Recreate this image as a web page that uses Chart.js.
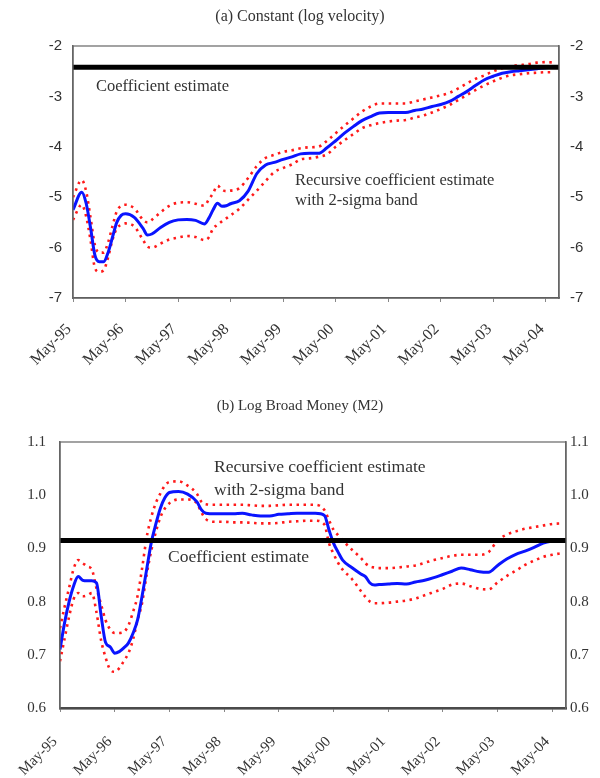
<!DOCTYPE html>
<html><head><meta charset="utf-8">
<script src="https://cdn.jsdelivr.net/npm/chart.js@4.4.1/dist/chart.umd.min.js"></script>
<style>
body{margin:0;background:#fff;width:600px;height:778px;position:relative;overflow:hidden}
.wrap{position:absolute;left:0;width:600px}
.ann{position:absolute;font-family:"Liberation Serif","Times New Roman",serif;color:#333;white-space:nowrap;line-height:1}
</style></head><body>
<div class="wrap" style="top:0;height:390px"><canvas id="c1" width="600" height="390"></canvas></div>
<div class="wrap" style="top:390px;height:388px"><canvas id="c2" width="600" height="388"></canvas></div>
<div class="ann" style="left:96px;top:77.5px;font-size:16.5px">Coefficient estimate</div>
<div class="ann" style="left:295px;top:171.5px;font-size:16.5px">Recursive coefficient estimate</div>
<div class="ann" style="left:295px;top:191.5px;font-size:16.5px">with 2-sigma band</div>
<div class="ann" style="left:214px;top:458px;font-size:17.5px">Recursive coefficient estimate</div>
<div class="ann" style="left:214px;top:481px;font-size:17.5px">with 2-sigma band</div>
<div class="ann" style="left:168px;top:548px;font-size:17.5px">Coefficient estimate</div>
<script>
// ---- shared x axis: months since May-95 ----
const yearTickLabels = ['May-95','May-96','May-97','May-98','May-99','May-00','May-01','May-02','May-03','May-04'];
const monthsPerTick = 12;
const xMaxMonth = 111;

// ---- (a) Constant (log velocity) ----
const titleA = '(a) Constant (log velocity)';
const monthsA = [0,2,3,4,5,6,7,8,9,10,11,12,14,16,17,18,20,22,24,26,28,30,31,32,33,34,35,36,38,40,42,44,46,48,50,52,54,56,58,60,62,64,66,68,70,72,74,76,78,80,82,84,86,88,90,92,94,96,98,100,102,104,106,108,110];
const recursiveA = [-5.25,-4.9,-5.12,-5.6,-6.15,-6.28,-6.28,-6.1,-5.8,-5.5,-5.36,-5.33,-5.4,-5.62,-5.75,-5.73,-5.6,-5.5,-5.45,-5.44,-5.46,-5.53,-5.42,-5.25,-5.12,-5.18,-5.17,-5.13,-5.07,-4.88,-4.53,-4.36,-4.31,-4.25,-4.2,-4.14,-4.13,-4.13,-4.02,-3.88,-3.73,-3.6,-3.48,-3.4,-3.33,-3.32,-3.32,-3.32,-3.28,-3.25,-3.2,-3.16,-3.1,-3.0,-2.9,-2.78,-2.67,-2.6,-2.54,-2.51,-2.49,-2.47,-2.45,-2.43,-2.42];
const upperA = [-5.0,-4.66,-4.88,-5.4,-5.95,-6.1,-6.1,-5.9,-5.58,-5.28,-5.17,-5.15,-5.22,-5.45,-5.5,-5.45,-5.3,-5.17,-5.11,-5.1,-5.13,-5.17,-5.05,-4.92,-4.77,-4.85,-4.88,-4.87,-4.82,-4.62,-4.38,-4.22,-4.16,-4.1,-4.07,-4.03,-4.01,-4.0,-3.88,-3.73,-3.58,-3.44,-3.3,-3.2,-3.14,-3.14,-3.14,-3.14,-3.1,-3.06,-3.02,-2.98,-2.93,-2.84,-2.74,-2.65,-2.58,-2.5,-2.44,-2.4,-2.38,-2.36,-2.33,-2.32,-2.33];
const lowerA = [-5.45,-5.15,-5.38,-5.85,-6.4,-6.48,-6.45,-6.2,-5.85,-5.62,-5.55,-5.52,-5.58,-5.85,-5.98,-6.0,-5.92,-5.84,-5.8,-5.77,-5.79,-5.85,-5.8,-5.62,-5.55,-5.48,-5.42,-5.36,-5.23,-5.05,-4.87,-4.68,-4.5,-4.42,-4.35,-4.25,-4.23,-4.2,-4.15,-4.0,-3.87,-3.75,-3.63,-3.57,-3.53,-3.5,-3.48,-3.47,-3.42,-3.38,-3.32,-3.25,-3.17,-3.07,-2.97,-2.87,-2.78,-2.7,-2.63,-2.58,-2.56,-2.54,-2.53,-2.52,-2.52];
const coefA = -2.42;
const yTicksA = {min:-7, max:-2, step:1};

// ---- (b) Log Broad Money (M2) ----
const titleB = '(b) Log Broad Money (M2)';
const monthsB = [0,1,2,3,4,5,6,7,8,9,10,11,12,13,14,15,16,17,18,19,20,21,22,23,24,26,28,30,31,32,34,36,38,40,42,44,46,48,50,52,54,56,58,59,60,61,62,64,66,67,68,69,70,72,74,76,78,80,82,84,86,88,90,92,94,96,98,100,102,104,106,108,110];
const recursiveB = [0.71,0.76,0.80,0.83,0.847,0.84,0.839,0.839,0.835,0.775,0.723,0.715,0.703,0.706,0.713,0.722,0.74,0.765,0.81,0.86,0.91,0.945,0.975,0.995,1.005,1.007,1.002,0.988,0.973,0.966,0.965,0.965,0.965,0.966,0.963,0.961,0.961,0.964,0.965,0.966,0.966,0.966,0.962,0.935,0.91,0.893,0.878,0.864,0.852,0.847,0.835,0.831,0.832,0.833,0.834,0.833,0.837,0.84,0.845,0.851,0.857,0.863,0.86,0.856,0.855,0.868,0.88,0.889,0.895,0.902,0.91,0.914,0.916];
const upperB = [0.75,0.79,0.826,0.862,0.878,0.872,0.866,0.86,0.825,0.795,0.765,0.748,0.741,0.741,0.743,0.755,0.78,0.81,0.862,0.92,0.958,0.985,1.003,1.018,1.025,1.026,1.018,1.003,0.988,0.983,0.982,0.982,0.982,0.982,0.981,0.98,0.98,0.981,0.982,0.982,0.982,0.982,0.972,0.953,0.935,0.925,0.915,0.898,0.882,0.872,0.866,0.864,0.863,0.863,0.864,0.866,0.868,0.873,0.878,0.882,0.886,0.888,0.888,0.888,0.893,0.915,0.926,0.932,0.937,0.94,0.943,0.946,0.947];
const lowerB = [0.688,0.73,0.772,0.805,0.816,0.81,0.812,0.816,0.78,0.728,0.695,0.672,0.668,0.675,0.688,0.703,0.728,0.765,0.797,0.85,0.895,0.93,0.958,0.975,0.985,0.992,0.992,0.985,0.968,0.955,0.95,0.95,0.949,0.949,0.948,0.947,0.947,0.948,0.95,0.951,0.952,0.952,0.945,0.91,0.89,0.873,0.86,0.843,0.82,0.809,0.8,0.797,0.797,0.798,0.8,0.802,0.806,0.812,0.818,0.824,0.832,0.834,0.829,0.824,0.823,0.836,0.848,0.858,0.869,0.877,0.884,0.888,0.891];
const coefB = 0.915;
const yTicksB = {min:0.6, max:1.1, step:0.1};

const SERIF = '"Liberation Serif","Times New Roman",serif';
const SANS = '"Liberation Sans",Arial,sans-serif';

const framePlugin = {
  id:'frame',
  afterDatasetsDraw(chart, args, opts){
    const a = chart.chartArea, c = chart.ctx;
    c.save();
    c.strokeStyle = opts.color; c.lineWidth = opts.width;
    c.strokeRect(a.left, a.top, a.right-a.left, a.bottom-a.top);
    c.restore();
  }
};

function pts(ms, vs){ return ms.map((m,i)=>({x:m, y:vs[i]})); }

function makeChart(id, cfg){
  const curve = {pointRadius:0, cubicInterpolationMode:'monotone'};
  const datasets = [
    {data:[{x:0,y:cfg.coef},{x:xMaxMonth,y:cfg.coef}], borderColor:'#000', borderWidth:5, pointRadius:0, tension:0},
    Object.assign({data:pts(cfg.months, cfg.rec), borderColor:'#0a14ff', borderWidth:3}, curve),
    Object.assign({data:pts(cfg.months, cfg.up), borderColor:'#ff1a1a', borderWidth:2.6, borderDash:[2.5,4.5]}, curve),
    Object.assign({data:pts(cfg.months, cfg.lo), borderColor:'#ff1a1a', borderWidth:2.6, borderDash:[2.5,4.5]}, curve)
  ];
  const yCommon = (pos, w, pad) => ({
    type:'linear', position:pos, min:cfg.yt.min, max:cfg.yt.max,
    ticks:{stepSize:cfg.yt.step, color:'#333', padding:pad, font:{family:cfg.yFont, size:cfg.yFontSize},
      callback:v=>cfg.yFmt(v)},
    grid:{drawOnChartArea:false, drawTicks:false},
    border:{display:true, color:'#666', width:1.5},
    afterFit:s=>{s.width = w;}
  });
  return new Chart(document.getElementById(id), {
    type:'line',
    data:{datasets},
    options:{
      responsive:false, animation:false, events:[],
      layout:{padding:0, autoPadding:false},
      plugins:{
        legend:{display:false}, tooltip:{enabled:false},
        title:{display:true, text:cfg.title, color:'#333', font:{family:SERIF, size:cfg.titleSize, weight:'normal'}, padding:cfg.titlePad},
        frame:{color:'#666', width:1.2}
      },
      scales:{
        x:{type:'linear', position:'bottom', min:0, max:xMaxMonth,
          ticks:{stepSize:monthsPerTick, includeBounds:false, autoSkip:false, maxRotation:cfg.rot, minRotation:cfg.rot,
            color:'#333', padding:cfg.xPad, labelOffset:cfg.xOff, font:{family:SERIF, size:cfg.xFontSize},
            callback:v=>yearTickLabels[Math.round(v/monthsPerTick)] ?? ''},
          grid:{drawOnChartArea:false, drawTicks:true, tickLength:4, color:'#888'},
          border:{display:true, color:cfg.xBorder, width:cfg.xBorderW},
          afterFit:s=>{s.height = cfg.xH;}
        },
        y:yCommon('left', cfg.leftW, cfg.yPadL),
        y2:yCommon('right', cfg.rightW, cfg.yPadR)
      }
    },
    plugins:[framePlugin]
  });
}

makeChart('c1', {
  title:titleA, months:monthsA, rec:recursiveA, up:upperA, lo:lowerA, coef:coefA, yt:yTicksA,
  yFont:SANS, yFontSize:15, yFmt:v=>String(Math.round(v)),
  titleSize:16, titlePad:{top:7.4, bottom:19.4}, leftW:73, rightW:41, xH:92, yPadL:11, yPadR:11,
  rot:45, xPad:18, xOff:-4, xFontSize:16, xBorder:'#555', xBorderW:1.5
});
makeChart('c2', {
  title:titleB, months:monthsB, rec:recursiveB, up:upperB, lo:lowerB, coef:coefB, yt:yTicksB,
  yFont:SERIF, yFontSize:15, yFmt:v=>v.toFixed(1),
  titleSize:15, titlePad:{top:7, bottom:27}, leftW:60, rightW:34, xH:70, yPadL:14, yPadR:4,
  rot:45, xPad:21, xOff:-5, xFontSize:15, xBorder:'#222', xBorderW:2.5
});
</script>
</body></html>
